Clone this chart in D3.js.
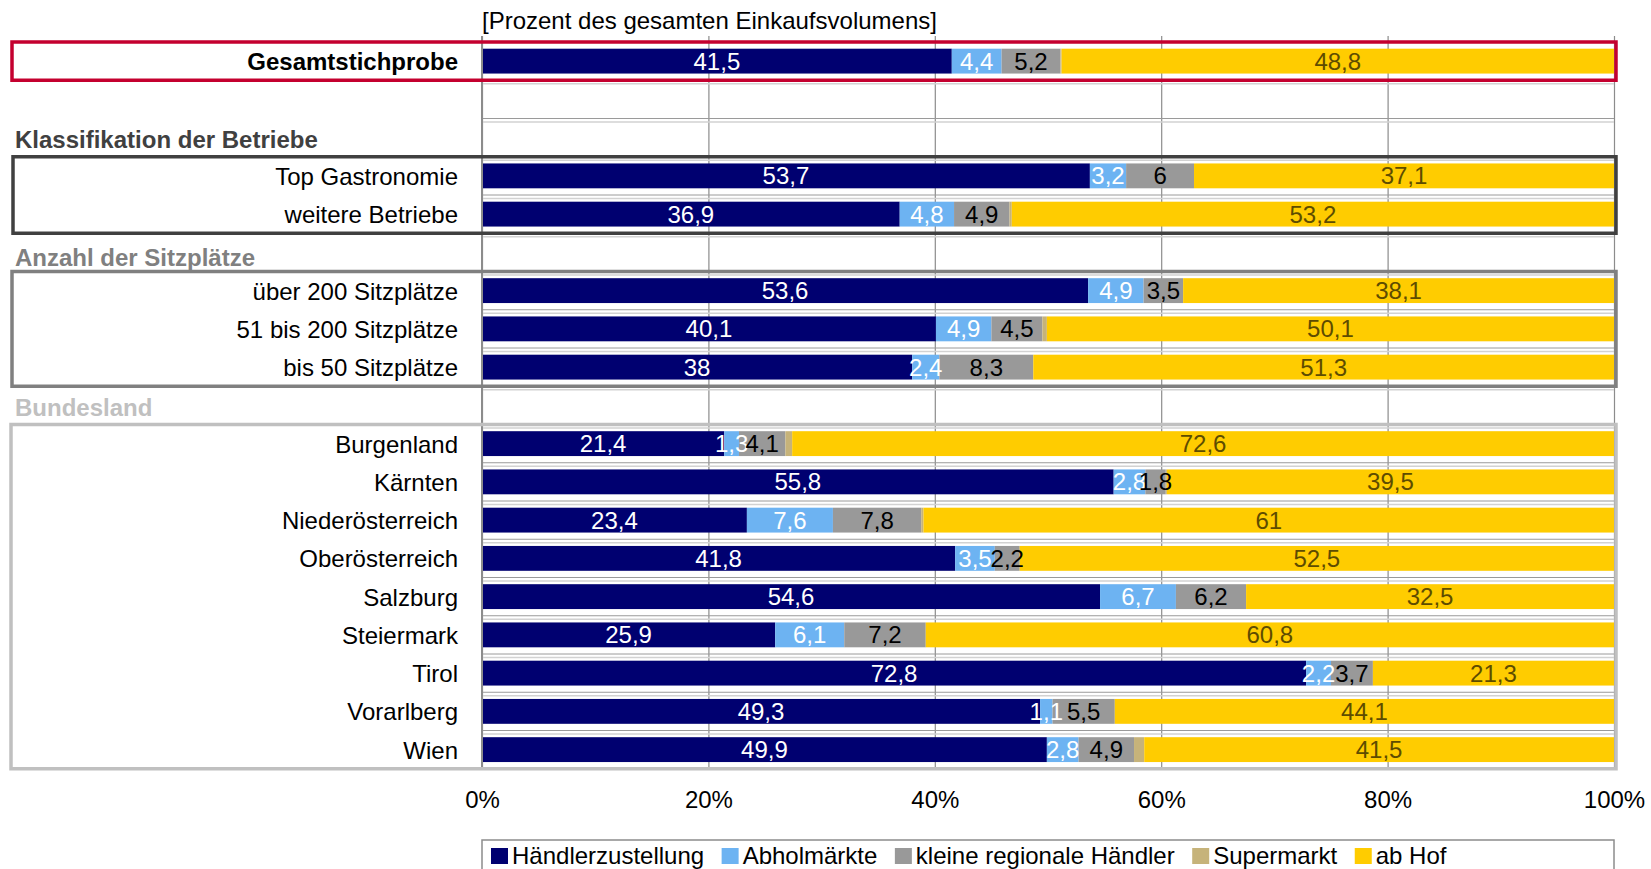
<!DOCTYPE html>
<html>
<head>
<meta charset="utf-8">
<script src="https://cdn.jsdelivr.net/npm/d3@7"></script>
<style>
  body { margin: 0; background: #fff; }
  svg { font-family: "Liberation Sans", Arial, sans-serif; }
</style>
</head>
<body>
<svg id="chart" width="1651" height="869"></svg>
<script>

// Reihen im Diagramm (inkl. Leerzeilen und Gruppenüberschriften)
const slots = ["Gesamtstichprobe", "leer", "Klassifikation der Betriebe", "Top Gastronomie", "weitere Betriebe",
  "Anzahl der Sitzplätze", "über 200 Sitzplätze", "51 bis 200 Sitzplätze", "bis 50 Sitzplätze",
  "Bundesland", "Burgenland", "Kärnten", "Niederösterreich", "Oberösterreich", "Salzburg",
  "Steiermark", "Tirol", "Vorarlberg", "Wien"];

const headings = ["Klassifikation der Betriebe", "Anzahl der Sitzplätze", "Bundesland"];

const categories = ["Gesamtstichprobe", "Top Gastronomie", "weitere Betriebe", "über 200 Sitzplätze",
  "51 bis 200 Sitzplätze", "bis 50 Sitzplätze", "Burgenland", "Kärnten", "Niederösterreich",
  "Oberösterreich", "Salzburg", "Steiermark", "Tirol", "Vorarlberg", "Wien"];

const seriesNames = ["Händlerzustellung", "Abholmärkte", "kleine regionale Händler", "Supermarkt", "ab Hof"];

const haendler       = [41.5, 53.7, 36.9, 53.6, 40.1, 38, 21.4, 55.8, 23.4, 41.8, 54.6, 25.9, 72.8, 49.3, 49.9];
const abholmaerkte   = [4.4, 3.2, 4.8, 4.9, 4.9, 2.4, 1.3, 2.8, 7.6, 3.5, 6.7, 6.1, 2.2, 1.1, 2.8];
const kleineHaendler = [5.2, 6, 4.9, 3.5, 4.5, 8.3, 4.1, 1.8, 7.8, 2.2, 6.2, 7.2, 3.7, 5.5, 4.9];
const supermarkt     = [0.1, 0, 0.2, 0, 0.4, 0, 0.6, 0.1, 0.2, 0, 0, 0, 0, 0, 0.9];
const abHof          = [48.8, 37.1, 53.2, 38.1, 50.1, 51.3, 72.6, 39.5, 61, 52.5, 32.5, 60.8, 21.3, 44.1, 41.5];

const tickValues = [0, 0.2, 0.4, 0.6, 0.8, 1];
const titleText = "[Prozent des gesamten Einkaufsvolumens]";

// ------------------------------------------------------------

const colors = ["#000070", "#6db3f2", "#999999", "#c6b37a", "#ffcc00"];
const labelColors = ["#ffffff", "#ffffff", "#000000", null, "#5e4c00"];

const x0 = 482, x1 = 1614, yTop = 42, yBottom = 768.75;

const svg = d3.select("#chart");

const table = categories.map((c, i) => ({
  cat: c,
  "Händlerzustellung": haendler[i],
  "Abholmärkte": abholmaerkte[i],
  "kleine regionale Händler": kleineHaendler[i],
  "Supermarkt": supermarkt[i],
  "ab Hof": abHof[i]
}));

const stacked = d3.stack().keys(seriesNames).offset(d3.stackOffsetExpand)(table);

let xScale = d3.scaleLinear().domain([0, 1]).range([x0, x1]);

let yScale = d3.scaleBand()
  .domain(slots)
  .range([yTop, yBottom])
  .paddingInner(0.35)
  .paddingOuter(0.175);

const step = yScale.step();
const halfGap = yScale.paddingInner() * step / 2;

// vertikale Gitterlinien + Achse
const xAxis = d3.axisBottom(xScale)
  .tickValues(tickValues)
  .tickSize(-(yBottom - 36))
  .tickPadding(22)
  .tickFormat(d3.format(".0%"));

const axisG = svg.append("g")
  .attr("transform", "translate(0," + yBottom + ")")
  .call(xAxis);
axisG.select(".domain").remove();
axisG.selectAll(".tick line").attr("stroke", "#8c8c8c").attr("stroke-width", 1.2);
axisG.selectAll(".tick text").attr("font-size", 24).attr("fill", "#000").attr("font-family", "Liberation Sans, Arial, sans-serif");

// horizontale Trennlinien zwischen den Zeilen
const boundaries = slots.slice(1).map(s => yScale(s) - halfGap);
svg.append("g").selectAll("line.sep")
  .data(boundaries)
  .enter()
  .append("line")
  .attr("x1", x0).attr("x2", x1)
  .attr("y1", d => d).attr("y2", d => d)
  .attr("stroke", "#9a9a9a")
  .attr("stroke-width", 1);
svg.append("g").selectAll("line.sep2")
  .data(boundaries)
  .enter()
  .append("line")
  .attr("x1", x0).attr("x2", x1)
  .attr("y1", d => d + 3.5).attr("y2", d => d + 3.5)
  .attr("stroke", "#d2d2d2")
  .attr("stroke-width", 1.5);

// Balken
const layers = svg.append("g").selectAll("g.layer")
  .data(stacked)
  .enter()
  .append("g")
  .attr("fill", (d, i) => colors[i]);

layers.selectAll("rect")
  .data(d => d)
  .enter()
  .append("rect")
  .attr("x", d => xScale(d[0]))
  .attr("width", d => xScale(d[1]) - xScale(d[0]))
  .attr("y", d => yScale(d.data.cat))
  .attr("height", yScale.bandwidth());

// Werte in den Balken
stacked.forEach((layer, i) => {
  if (!labelColors[i]) return;
  svg.append("g").selectAll("text")
    .data(layer)
    .enter()
    .append("text")
    .attr("x", d => (xScale(d[0]) + xScale(d[1])) / 2)
    .attr("y", d => yScale(d.data.cat) + yScale.bandwidth() / 2 + 8.5)
    .attr("text-anchor", "middle")
    .attr("font-size", 24)
    .attr("fill", labelColors[i])
    .text(d => String(d.data[layer.key]).replace(".", ","));
});

// Nulllinie
svg.append("line")
  .attr("x1", x0).attr("x2", x0)
  .attr("y1", 36).attr("y2", yBottom)
  .attr("stroke", "#8c8c8c")
  .attr("stroke-width", 2);

// Kategorien
svg.append("g").selectAll("text")
  .data(categories)
  .enter()
  .append("text")
  .attr("x", 458)
  .attr("y", d => yScale(d) + yScale.bandwidth() / 2 + 9)
  .attr("text-anchor", "end")
  .attr("font-size", 24)
  .attr("font-weight", d => d == "Gesamtstichprobe" ? "bold" : "normal")
  .attr("fill", "#000")
  .text(d => d);

// Gruppenüberschriften
const headingColors = ["#404040", "#808080", "#c0c0c0"];
const headingShift = [10, 14, 11];
svg.append("g").selectAll("text")
  .data(headings)
  .enter()
  .append("text")
  .attr("x", 15)
  .attr("y", (d, i) => yScale(d) + yScale.bandwidth() / 2 + headingShift[i])
  .attr("font-size", 24)
  .attr("font-weight", "bold")
  .attr("fill", (d, i) => headingColors[i])
  .text(d => d);

// Rahmen um die Gruppen
const groups = [
  { first: "Gesamtstichprobe", last: "Gesamtstichprobe", color: "#c4002f", left: 12 },
  { first: "Top Gastronomie", last: "weitere Betriebe", color: "#404040", left: 13 },
  { first: "über 200 Sitzplätze", last: "bis 50 Sitzplätze", color: "#808080", left: 12 },
  { first: "Burgenland", last: "Wien", color: "#c0c0c0", left: 11 }
];
svg.append("g").selectAll("rect")
  .data(groups)
  .enter()
  .append("rect")
  .attr("x", d => d.left)
  .attr("y", d => yScale(d.first) - halfGap)
  .attr("width", d => 1616 - d.left)
  .attr("height", d => yScale(d.last) + yScale.bandwidth() + halfGap - (yScale(d.first) - halfGap))
  .attr("fill", "none")
  .attr("stroke", d => d.color)
  .attr("stroke-width", 3.5);

// Titel
svg.append("text")
  .attr("x", x0)
  .attr("y", 29)
  .attr("font-size", 24)
  .attr("fill", "#000")
  .text(titleText);

// Legende
svg.append("rect")
  .attr("x", x0)
  .attr("y", 840)
  .attr("width", x1 - x0)
  .attr("height", 60)
  .attr("fill", "none")
  .attr("stroke", "#8c8c8c")
  .attr("stroke-width", 1.5);

let lx = 491;
seriesNames.forEach((name, i) => {
  svg.append("rect")
    .attr("x", lx).attr("y", 848)
    .attr("width", 17).attr("height", 16)
    .attr("fill", colors[i]);
  const t = svg.append("text")
    .attr("x", lx + 21)
    .attr("y", 864)
    .attr("font-size", 24)
    .attr("fill", "#000")
    .text(name);
  lx = lx + 21 + t.node().getComputedTextLength() + 17.5;
});

</script>
</body>
</html>
